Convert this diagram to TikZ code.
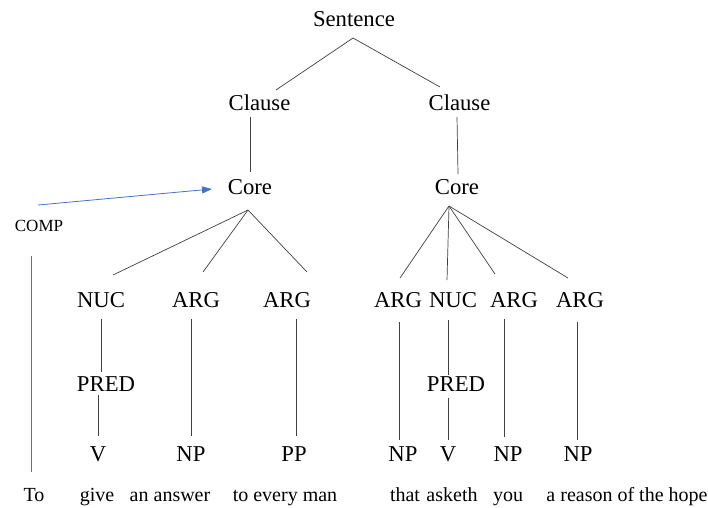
\documentclass[tikz,border=0pt]{standalone}
\usepackage{fontspec}
\setmainfont{Liberation Serif}
\usetikzlibrary{arrows.meta}
\definecolor{linkblue}{HTML}{4472C4}
\begin{document}
\begin{tikzpicture}[x=1pt,y=-1pt,
  lbl/.style={anchor=base,inner sep=0pt,font=\fontsize{22.7}{27}\selectfont},
  word/.style={anchor=base,inner sep=0pt,font=\fontsize{20}{24}\selectfont},
  small/.style={anchor=base,inner sep=0pt,font=\fontsize{17}{20}\selectfont},
  branch/.style={draw=black!75,line width=0.7pt},
  bluelink/.style={draw=linkblue,line width=0.8pt}]
\useasboundingbox (0,0) rectangle (708,507);

% tree labels
\node[lbl] (sent) at (354,26.5) {Sentence};
\node[lbl] (clL) at (259.5,110) {Clause};
\node[lbl] (clR) at (459.5,110) {Clause};
\node[lbl] (coL) at (250,194) {Core};
\node[lbl] (coR) at (457,194) {Core};
\node[lbl] (nucL) at (101,307) {NUC};
\node[lbl] (argLa) at (196,307) {ARG};
\node[lbl] (argLb) at (287,307) {ARG};
\node[lbl] (argRa) at (398,307) {ARG};
\node[lbl] (nucR) at (453,307) {NUC};
\node[lbl] (argRb) at (514,307) {ARG};
\node[lbl] (argRc) at (580,307) {ARG};
\node[lbl] (predL) at (106,391) {PRED};
\node[lbl] (predR) at (456,391) {PRED};
\node[lbl] (vL) at (98,461) {V};
\node[lbl] (npL) at (191,461) {NP};
\node[lbl] (ppL) at (294,461) {PP};
\node[lbl] (npRa) at (403,461) {NP};
\node[lbl] (vR) at (448,461) {V};
\node[lbl] (npRb) at (508,461) {NP};
\node[lbl] (npRc) at (578,461) {NP};

% words of the sentence
\node[word] (wTo) at (34,501) {To};
\node[word] (wGive) at (97,501) {give};
\node[word] (wAns) at (170,501) {an answer};
\node[word] (wMan) at (285,501) {to every man};
\node[word] (wThat) at (405,501) {that};
\node[word] (wAsk) at (452,501) {asketh};
\node[word] (wYou) at (508,501) {you};
\node[word] (wHope) at (627,501) {a reason of the hope};

\node[small] (comp) at (39,231) {COMP};

% branches
\draw[branch] ([shift={(-1,11.5)}]sent.base) -- ([shift={(16.5,-20)}]clL.base);
\draw[branch] ([shift={(-1,11.5)}]sent.base) -- ([shift={(-19.5,-23)}]clR.base);
\draw[branch] ([shift={(-9.5,7)}]clL.base) -- ([shift={(0,-22)}]coL.base);
\draw[branch] ([shift={(-2.5,7)}]clR.base) -- ([shift={(1,-20)}]coR.base);

\draw[branch] ([shift={(-2,16)}]coL.base) -- ([shift={(12,-32)}]nucL.base);
\draw[branch] ([shift={(-2,16)}]coL.base) -- ([shift={(7,-35)}]argLa.base);
\draw[branch] ([shift={(-2,16)}]coL.base) -- ([shift={(20,-35)}]argLb.base);

\draw[branch] ([shift={(-8,12)}]coR.base) -- ([shift={(2,-29)}]argRa.base);
\draw[branch] ([shift={(-8,12)}]coR.base) -- ([shift={(-6,-27)}]nucR.base);
\draw[branch] ([shift={(-8,12)}]coR.base) -- ([shift={(-19,-33)}]argRb.base);
\draw[branch] ([shift={(-8,12)}]coR.base) -- ([shift={(-12,-29)}]argRc.base);

\draw[branch] ([shift={(0,12)}]nucL.base) -- ([shift={(-5,-19)}]predL.base);
\draw[branch] ([shift={(-8,4)}]predL.base) -- ([shift={(0,-25)}]vL.base);
\draw[branch] ([shift={(-5,12)}]argLa.base) -- ([shift={(0,-25)}]npL.base);
\draw[branch] ([shift={(9,12)}]argLb.base) -- ([shift={(2,-25)}]ppL.base);

\draw[branch] ([shift={(1,15)}]argRa.base) -- ([shift={(-4,-21)}]npRa.base);
\draw[branch] ([shift={(-5,13)}]nucR.base) -- ([shift={(-8,-16)}]predR.base);
\draw[branch] ([shift={(-8,7)}]predR.base) -- ([shift={(0,-21)}]vR.base);
\draw[branch] ([shift={(-10,12)}]argRb.base) -- ([shift={(-4,-24)}]npRb.base);
\draw[branch] ([shift={(-3,15)}]argRc.base) -- ([shift={(-1,-21)}]npRc.base);

% complement links
\draw[bluelink,-{Triangle[length=10pt,width=7pt]}] ([shift={(-1,-26)}]comp.base) -- ([shift={(-38,-5)}]coL.base);
\draw[bluelink] ([shift={(-8,25)}]comp.base) -- ([shift={(-3,-29)}]wTo.base);
\end{tikzpicture}
\end{document}
